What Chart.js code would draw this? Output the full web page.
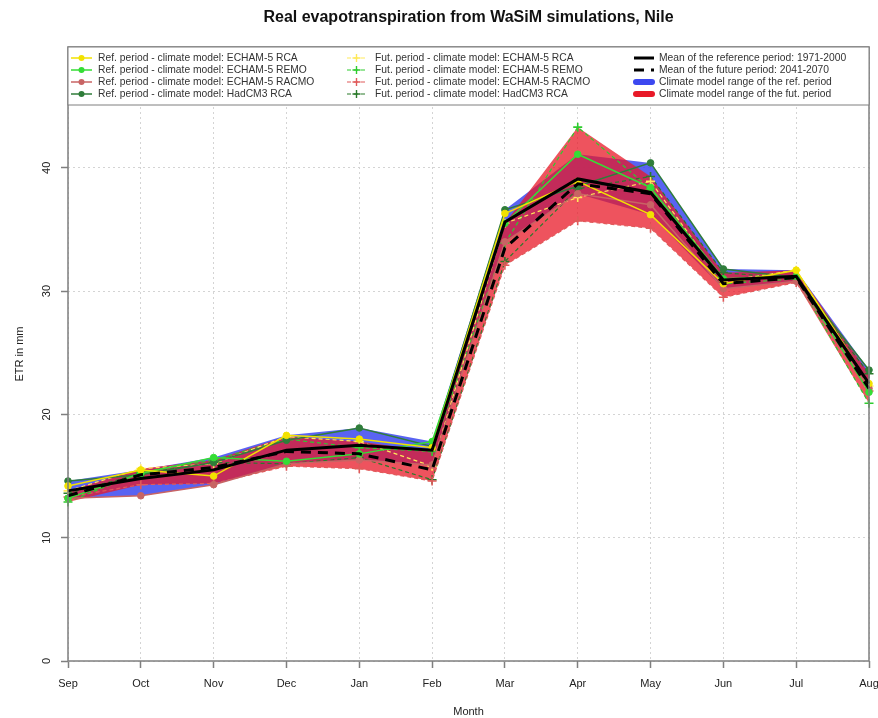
<!DOCTYPE html>
<html>
<head>
<meta charset="utf-8">
<title>Real evapotranspiration from WaSiM simulations, Nile</title>
<script src="https://cdn.jsdelivr.net/npm/chart.js@4.4.0/dist/chart.umd.min.js"></script>
<style>
  html, body { margin: 0; padding: 0; background: #fff; }
  #wrap { width: 878px; height: 718px; }
</style>
</head>
<body>
<div id="wrap"><canvas id="etrChart" width="878" height="718"></canvas></div>
<script>
// monthly ETR in mm
const months = ["Sep", "Oct", "Nov", "Dec", "Jan", "Feb", "Mar", "Apr", "May", "Jun", "Jul", "Aug"];

const refRCA    = [14.2, 15.5, 15.0, 18.3, 18.0, 17.3, 36.3, 38.9, 36.2, 30.6, 31.7, 22.5];
const refREMO   = [13.2, 15.2, 16.5, 16.2, 16.8, 17.8, 35.5, 41.1, 38.4, 31.0, 31.2, 21.8];
const refRACMO  = [13.2, 13.4, 14.3, 16.0, 16.3, 15.9, 34.0, 37.9, 37.0, 30.2, 30.8, 22.1];
const refHadCM3 = [14.6, 15.1, 16.1, 17.9, 18.9, 17.4, 36.6, 38.5, 40.4, 31.8, 31.1, 23.6];

const futRCA    = [13.8, 15.6, 16.0, 18.2, 17.8, 15.8, 35.5, 37.6, 38.9, 30.8, 31.7, 22.3];
const futREMO   = [12.9, 15.3, 16.3, 18.0, 17.3, 17.0, 33.9, 43.3, 38.3, 30.6, 31.0, 20.9];
const futRACMO  = [13.3, 14.3, 14.4, 15.8, 15.6, 14.6, 32.1, 35.7, 35.1, 29.5, 30.7, 21.9];
const futHadCM3 = [13.6, 15.2, 16.1, 16.0, 16.5, 14.7, 32.4, 38.3, 39.3, 31.5, 31.0, 23.3];

const refMean = [13.8, 14.8, 15.5, 17.1, 17.5, 17.1, 35.6, 39.1, 38.0, 30.9, 31.2, 22.5];
const futMean = [13.4, 15.1, 15.7, 17.0, 16.8, 15.5, 33.5, 38.7, 37.9, 30.6, 31.1, 22.1];

const refMax = [14.6, 15.5, 16.5, 18.3, 18.9, 17.8, 36.6, 41.1, 40.4, 31.8, 31.7, 23.6];
const refMin = [13.2, 13.4, 14.3, 16.0, 16.3, 15.9, 34.0, 37.9, 36.2, 30.2, 30.8, 21.8];
const futMax = [13.8, 15.6, 16.3, 18.2, 17.8, 17.0, 35.5, 43.3, 39.3, 31.5, 31.7, 23.3];
const futMin = [12.9, 14.3, 14.4, 15.8, 15.6, 14.6, 32.1, 35.7, 35.1, 29.5, 30.7, 20.9];

const yTicks = [0, 10, 20, 30, 40];

const FONT = '"Liberation Sans", Arial, Helvetica, sans-serif';
const AXIS_GREY = "#7f7f7f";

function modelLine(label, data, color, future, row) {
  return {
    label: label,
    data: data,
    borderColor: color,
    backgroundColor: color,
    borderWidth: future ? 1.2 : 1.5,
    borderDash: future ? [4, 3] : [],
    pointStyle: future ? "cross" : "circle",
    pointRadius: future ? 4.5 : 3.3,
    pointBorderWidth: future ? 1.6 : 1,
    pointBorderColor: color,
    pointBackgroundColor: color,
    fill: false,
    tension: 0,
    order: future ? 6 : 5,
    legendCol: future ? 1 : 0,
    legendRow: row
  };
}

function bandEdge(label, data, fillColor, fillTarget, order, row) {
  return {
    label: label,
    data: data,
    borderColor: "transparent",
    borderWidth: 0,
    pointRadius: 0,
    backgroundColor: fillColor,
    fill: fillTarget,
    tension: 0,
    order: order,
    legendCol: row === undefined ? undefined : 2,
    legendRow: row
  };
}

const datasets = [
  bandEdge("Climate model range of the ref. period", refMax, "rgba(60,72,240,0.85)", "+1", 20, 2),
  bandEdge("ref min", refMin, "rgba(0,0,0,0)", false, 21),
  bandEdge("Climate model range of the fut. period", futMax, "rgba(232,25,40,0.75)", "+1", 18, 3),
  bandEdge("fut min", futMin, "rgba(0,0,0,0)", false, 19),

  modelLine("Ref. period - climate model: ECHAM-5 RCA", refRCA, "#f2e200", false, 0),
  modelLine("Ref. period - climate model: ECHAM-5 REMO", refREMO, "#35dd35", false, 1),
  modelLine("Ref. period - climate model: ECHAM-5 RACMO", refRACMO, "#c86464", false, 2),
  modelLine("Ref. period - climate model: HadCM3 RCA", refHadCM3, "#2f7d3a", false, 3),

  modelLine("Fut. period - climate model: ECHAM-5 RCA", futRCA, "#ffe95a", true, 0),
  modelLine("Fut. period - climate model: ECHAM-5 REMO", futREMO, "#2ecc2e", true, 1),
  modelLine("Fut. period - climate model: ECHAM-5 RACMO", futRACMO, "#e05a5a", true, 2),
  modelLine("Fut. period - climate model: HadCM3 RCA", futHadCM3, "#2a7a2a", true, 3),

  {
    label: "Mean of the reference period: 1971-2000",
    data: refMean, borderColor: "#000", borderWidth: 3, pointRadius: 0,
    fill: false, tension: 0, order: 1, legendCol: 2, legendRow: 0
  },
  {
    label: "Mean of the future period: 2041-2070",
    data: futMean, borderColor: "#000", borderWidth: 3, borderDash: [10, 7], pointRadius: 0,
    fill: false, tension: 0, order: 2, legendCol: 2, legendRow: 1
  }
];

// title, rotated y labels, frame and the R-style legend box
const decor = {
  id: "decor",
  afterDraw(chart) {
    const { ctx, chartArea: a, scales } = chart;
    ctx.save();

    ctx.strokeStyle = AXIS_GREY;
    ctx.lineWidth = 1.5;
    ctx.strokeRect(a.left, a.top, a.right - a.left, a.bottom - a.top);

    ctx.fillStyle = "#111";
    ctx.font = "bold 16px " + FONT;
    ctx.textAlign = "center";
    ctx.textBaseline = "middle";
    ctx.fillText("Real evapotranspiration from WaSiM simulations, Nile", (a.left + a.right) / 2, 18);

    ctx.fillStyle = "#222";
    ctx.font = "11px " + FONT;
    ctx.fillText("Month", (a.left + a.right) / 2, 712);

    ctx.save();
    ctx.translate(20, (a.top + a.bottom) / 2);
    ctx.rotate(-Math.PI / 2);
    ctx.fillText("ETR in mm", 0, 0);
    ctx.restore();

    yTicks.forEach(v => {
      const y = scales.y.getPixelForValue(v);
      ctx.save();
      ctx.translate(47, y);
      ctx.rotate(-Math.PI / 2);
      ctx.fillText(String(v), 0, 0);
      ctx.restore();
    });

    // legend
    const boxH = 58;
    ctx.fillStyle = "#fff";
    ctx.fillRect(a.left, a.top, a.right - a.left, boxH);
    ctx.strokeStyle = AXIS_GREY;
    ctx.lineWidth = 1;
    ctx.strokeRect(a.left, a.top, a.right - a.left, boxH);

    const cols = [
      { x0: a.left + 3, x1: a.left + 24, tx: a.left + 30 },
      { x0: a.left + 279, x1: a.left + 298, tx: a.left + 307 },
      { x0: a.left + 566, x1: a.left + 586, tx: a.left + 591 }
    ];
    ctx.font = "10.3px " + FONT;
    ctx.textAlign = "left";
    chart.data.datasets.forEach(ds => {
      if (ds.legendCol === undefined || ds.legendRow === undefined) return;
      const c = cols[ds.legendCol];
      const y = a.top + 11 + ds.legendRow * 12;
      const mx = (c.x0 + c.x1) / 2;
      ctx.save();
      if (ds.fill === "+1") {
        ctx.strokeStyle = ds.backgroundColor.replace(/rgba\((\d+),(\d+),(\d+),[^)]+\)/, "rgb($1,$2,$3)");
        ctx.lineWidth = 6;
        ctx.lineCap = "round";
        ctx.beginPath(); ctx.moveTo(c.x0 + 2, y); ctx.lineTo(c.x1 - 2, y); ctx.stroke();
      } else {
        ctx.strokeStyle = ds.borderColor;
        ctx.lineWidth = ds.borderWidth;
        ctx.setLineDash(ds.borderDash || []);
        ctx.beginPath(); ctx.moveTo(c.x0, y); ctx.lineTo(c.x1, y); ctx.stroke();
        ctx.setLineDash([]);
        if (ds.pointStyle === "circle") {
          ctx.fillStyle = ds.pointBackgroundColor;
          ctx.beginPath(); ctx.arc(mx, y, 3, 0, Math.PI * 2); ctx.fill();
        } else if (ds.pointStyle === "cross") {
          ctx.lineWidth = 1.4;
          ctx.beginPath();
          ctx.moveTo(mx - 4, y); ctx.lineTo(mx + 4, y);
          ctx.moveTo(mx, y - 4); ctx.lineTo(mx, y + 4);
          ctx.stroke();
        }
      }
      ctx.restore();
      ctx.fillStyle = "#333";
      ctx.fillText(ds.label, c.tx, y + 0.5);
    });

    ctx.restore();
  }
};

const gridOpts = {
  color: "#d4d4d4",
  lineWidth: 1,
  drawTicks: true,
  tickLength: 7,
  tickColor: AXIS_GREY,
  tickWidth: 1.5,
  tickBorderDash: [],
  offset: false
};

new Chart(document.getElementById("etrChart").getContext("2d"), {
  type: "line",
  data: { labels: months, datasets: datasets },
  options: {
    responsive: false,
    animation: false,
    devicePixelRatio: 1,
    layout: { autoPadding: false, padding: { left: 0, right: 9, top: 47, bottom: 0 } },
    plugins: {
      legend: { display: false },
      tooltip: { enabled: false },
      filler: { propagate: false }
    },
    scales: {
      x: {
        type: "category",
        offset: false,
        grid: gridOpts,
        border: { display: false, dash: [2, 3] },
        ticks: {
          color: "#222",
          font: { family: FONT, size: 11 },
          padding: 9,
          maxRotation: 0,
          autoSkip: false
        },
        afterFit: s => { s.height = 57; s.paddingLeft = 0; s.paddingRight = 0; }
      },
      y: {
        min: 0,
        max: 49.8,
        grid: gridOpts,
        border: { display: false, dash: [2, 3] },
        ticks: { display: false },
        afterBuildTicks: s => { s.ticks = yTicks.map(v => ({ value: v })); },
        afterFit: s => { s.width = 68; s.paddingTop = 0; s.paddingBottom = 0; }
      }
    }
  },
  plugins: [decor]
});
</script>
</body>
</html>
